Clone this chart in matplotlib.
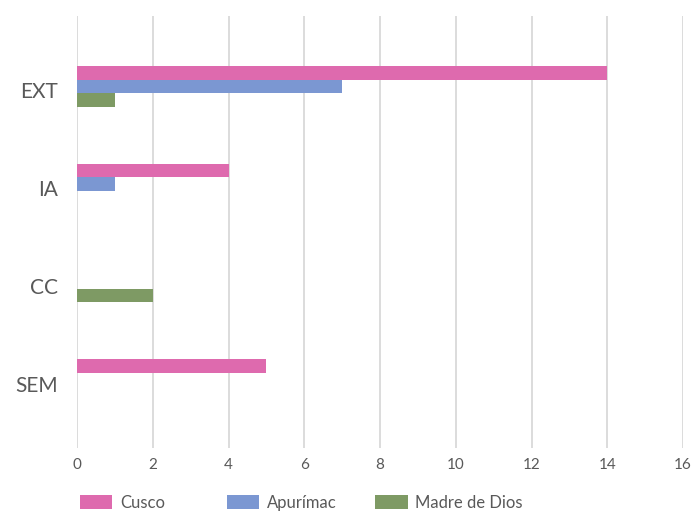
import numpy as np
import matplotlib
matplotlib.use('Agg')
import matplotlib.pyplot as plt
from matplotlib.transforms import ScaledTranslation

plt.rcParams['font.family'] = ['Lato', 'DejaVu Sans']

# Categorías (de arriba hacia abajo)
categorias = ['EXT', 'IA', 'CC', 'SEM']
series = ['Cusco', 'Apurímac', 'Madre de Dios']
cusco = [14, 4, 0, 5]
apurimac = [7, 1, 0, 0]
madre_de_dios = [1, 0, 2, 0]
colores = ['#DE6AAE', '#7B97D2', '#7E9A64']
valores = [cusco, apurimac, madre_de_dios]

texto = '#595959'
alto = 0.14

fig = plt.figure(figsize=(6.92, 5.15), dpi=100)
ax = fig.add_axes([0.1113, 0.1301, 0.8757, 0.8388])

y = np.arange(len(categorias))
for i, (nombre, vals, col) in enumerate(zip(series, valores, colores)):
    ax.barh(y + (i - 1) * alto, vals, height=alto, color=col, label=nombre, zorder=3)

ax.set_xlim(0, 16)
ax.set_xticks(np.arange(0, 17, 2))
ax.set_ylim(3.70, -0.72)
ax.set_yticks(y)
ax.set_yticklabels(categorias)
ax.grid(axis='x', color='#D9D9D9', linewidth=1.3, zorder=0)
for s in ax.spines.values():
    s.set_visible(False)
ax.tick_params(axis='both', length=0, colors=texto)
ax.tick_params(axis='x', labelsize=11, pad=7)
ax.tick_params(axis='y', labelsize=15, pad=14)
# las etiquetas de Excel quedan un poco más abajo
desplaza = ScaledTranslation(0, -4 / 100, fig.dpi_scale_trans)
for t in ax.get_yticklabels():
    t.set_transform(t.get_transform() + desplaza)

# leyenda con columnas de igual ancho, como en Excel
handles, labels = ax.get_legend_handles_labels()
for h, l, x0 in zip(handles, labels, [0.1156, 0.328, 0.542]):
    fig.legend([h], [l], loc='center left', bbox_to_anchor=(x0, 0.0233),
               frameon=False, fontsize=12, handlelength=1.95, handleheight=0.95,
               handletextpad=0.45, borderpad=0, borderaxespad=0, labelcolor=texto)

fig.savefig('out.png', dpi=100)
